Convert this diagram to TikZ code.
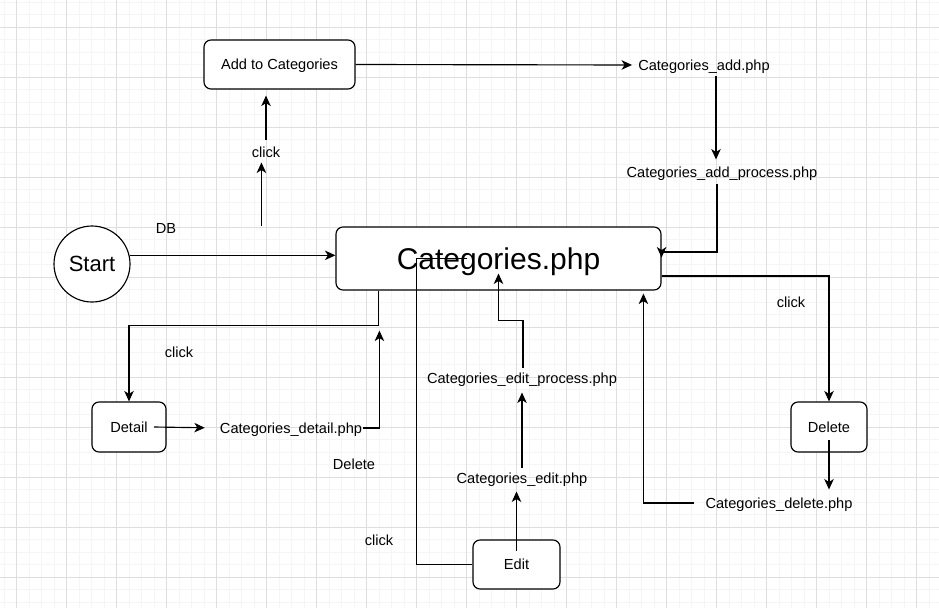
\documentclass[tikz,border=0pt]{standalone}
\usepackage{fontspec}
\setmainfont{Liberation Sans}
\usetikzlibrary{arrows.meta,calc}
\begin{document}
\begin{tikzpicture}[x=1pt,y=-1pt,
  minorline/.style={draw=black!4, line width=0.7pt},
  majorline/.style={draw=black!13, line width=0.7pt},
  box/.style={draw, rounded corners=7pt, line width=1.15pt, font=\fontsize{14.6}{16}\selectfont, inner sep=0pt, fill=white, text depth=0pt},
  lbl/.style={font=\fontsize{14.6}{16}\selectfont, inner sep=1pt, text depth=0pt},
  conn/.style={line width=1.15pt},
  arr/.style={conn, -{Stealth[length=10.5pt,width=9.5pt,inset=3pt]}}]
\useasboundingbox (0,0) rectangle (939,608);
\fill[white] (0,0) rectangle (939,608);
\foreach \x in {4,16.5,...,939} \draw[minorline] (\x,0) -- (\x,608);
\foreach \y in {2,14.5,...,608} \draw[minorline] (0,\y) -- (939,\y);
\foreach \x in {16.5,66.5,...,939} \draw[majorline] (\x,0) -- (\x,608);
\foreach \y in {27,77,...,608} \draw[majorline] (0,\y) -- (939,\y);

% nodes
\node[draw, circle, minimum size=76pt, inner sep=0pt, line width=1.15pt, fill=white, font=\fontsize{22}{26}\selectfont] (start) at (92,264) {Start};
\node[box, minimum width=325pt, minimum height=63pt, font=\fontsize{30}{34}\selectfont] (cat) at (498.5,258.5) {Categories.php};
\node[box, minimum width=151pt, minimum height=49pt] (add) at (279.5,64.5) {Add to Categories};
\node[box, minimum width=76pt, minimum height=50pt] (del) at (829,427) {Delete};
\node[box, minimum width=74pt, minimum height=50pt] (det) at (129,427) {Detail};
\node[box, minimum width=87pt, minimum height=49pt] (edit) at (516.5,564.5) {Edit};

\node[lbl] (db) at (166,228) {DB};
\node[lbl] (clk1) at (266,152) {click};
\node[lbl] (addphp) at (704,65) {Categories\_add.php};
\node[lbl] (addproc) at (722,172) {Categories\_add\_process.php};
\node[lbl] (clk2) at (791,302) {click};
\node[lbl] (delphp) at (779,503) {Categories\_delete.php};
\node[lbl] (clk3) at (179,352) {click};
\node[lbl] (detphp) at (291,428) {Categories\_detail.php};
\node[lbl] (deltxt) at (354,464) {Delete};
\node[lbl] (clk4) at (379,540) {click};
\node[lbl] (editphp) at (522,478) {Categories\_edit.php};
\node[lbl] (editproc) at (522,378) {Categories\_edit\_process.php};

% connectors
\draw[arr] (start.13) -- (cat.west |- start.13);
\coordinate (c1) at ($(cat.north west)+(-74,0)$);
\draw[arr, shorten >=4pt] (c1) -- (clk1.south -| c1);
\draw[arr, shorten <=6pt, shorten >=6pt] (clk1.north) -- (clk1.north |- add.south);
\draw[arr, shorten >=5pt] (add.east) -- (addphp.west);
\coordinate (a1) at ($(addphp.south)+(12,0)$);
\coordinate (a2) at ($(addproc.north)+(-6,0)$);
\draw[arr, shorten <=5pt, shorten >=6pt] (a1) -- (a1 |- a2);
\coordinate (a3) at ($(addproc.south)+(-5,0)$);
\draw[arr, shorten <=6pt] (a3) |- ($(cat.east)+(0,-6.5)$) -- ($(cat.east)+(0,-1)$);
\draw[arr] ($(cat.east)+(0,17.5)$) -| (del.north);
\draw[arr, shorten >=7pt] ($(del.center)+(0,13)$) -- (del.center |- delphp.north);
\draw[arr, shorten <=10pt] (delphp.west) -| ($(cat.south west)+(308,3)$);
\draw[arr] ($(cat.south west)+(43,0)$) -- ++(0,35) -| (det.north);
\draw[arr, shorten >=14pt] ($(det.center)+(25,0)$) -- (detphp.west);
\draw[arr] (detphp.east) -| ($(cat.south west)+(44,40)$);
\draw[conn] (edit.west) -| ($(cat.west)+(81,0)$) -- ++(51,0);
\coordinate (e1) at ($(editphp.south)+(0,7)$);
\draw[arr] ($(edit.center)+(0,-14)$) -- (edit.center |- e1);
\draw[arr, shorten >=8pt] ($(editphp.north)+(0,-4)$) -- (editphp.north |- editproc.south);
\draw[arr] ($(editproc.north)+(1,-4)$) -- ++(0,-47) -| ($(cat.center)+(0,15)$);
\end{tikzpicture}
\end{document}
